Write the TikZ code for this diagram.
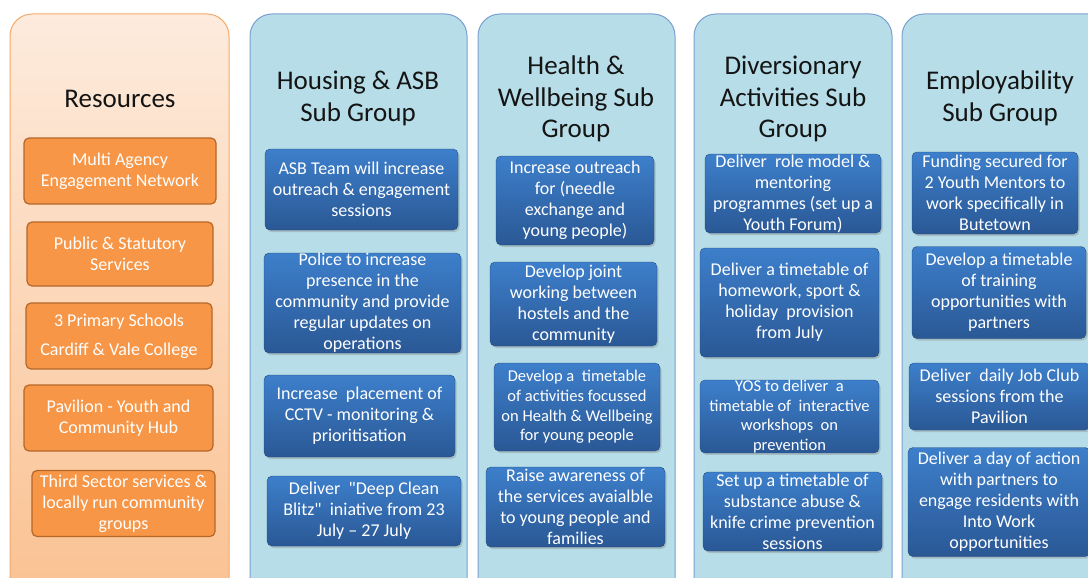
\documentclass[tikz,border=0pt]{standalone}
\usepackage{fontspec}
\setmainfont{Carlito}
\usetikzlibrary{shadows}

\definecolor{resFillTop}{HTML}{FDEBDD}
\definecolor{resFillBot}{HTML}{FAC08F}
\definecolor{resEdge}{HTML}{F4A96A}
\definecolor{resBox}{HTML}{F79646}
\definecolor{resBoxEdge}{HTML}{B5672A}
\definecolor{grpFill}{HTML}{B7DEE8}
\definecolor{grpEdge}{HTML}{7C9FD2}
\definecolor{actTop}{HTML}{3D7FCB}
\definecolor{actBot}{HTML}{2A5895}
\definecolor{headInk}{HTML}{141414}

\tikzset{
  column/.style={rounded corners=22pt, line width=1pt},
  rescol/.style={column, draw=resEdge, top color=resFillTop, bottom color=resFillBot},
  grpcol/.style={column, draw=grpEdge, fill=grpFill},
  head/.style={text=headInk, align=center, inner sep=0pt,
    font=\fontsize{27}{31.5}\selectfont},
  resbox/.style={rounded corners=5pt, fill=resBox, draw=resBoxEdge, line width=1.2pt,
    text=white, align=center, inner sep=0pt,
    font=\fontsize{18}{21}\selectfont},
  act/.style={rounded corners=5pt, top color=actTop, bottom color=actBot,
    draw=actBot!85!black, line width=0.4pt, text=white, align=center, inner sep=0pt,
    font=\fontsize{18}{21}\selectfont,
    drop shadow={opacity=0.35, shadow xshift=1.5pt, shadow yshift=-2pt}},
  smalltext/.style={font=\fontsize{16.5}{19.6}\selectfont},
}

\begin{document}
\begin{tikzpicture}[x=1pt, y=-1pt]
  \useasboundingbox (0,0) rectangle (1088,578);
  \clip (0,0) rectangle (1088,578);

  % column panels (run past the lower edge)
  \path[rescol] (10,14) rectangle (229,620);
  \path[grpcol] (250,14) rectangle (467,620);
  \path[grpcol] (478,14) rectangle (675,620);
  \path[grpcol] (694,14) rectangle (892,620);
  \path[grpcol] (902,14) rectangle (1120,620);

  % headings
  \node[head] (reshead) at (120,99) {Resources};
  \node[head] (hsghead) at (358,98.5) {Housing \& ASB\\Sub Group};
  \node[head] (hwbhead) at (576,99) {Health \&\\Wellbeing Sub\\Group};
  \node[head] (divhead) at (793,99) {Diversionary\\Activities Sub\\Group};
  \node[head] (emphead) at (1000,98.5) {Employability\\Sub Group};

  % resources
  \node[resbox, minimum width=192pt, minimum height=66pt] (r1) at (120,171)
    {Multi Agency\\Engagement Network};
  \node[resbox, minimum width=186pt, minimum height=64pt] (r2) at (120,254)
    {Public \& Statutory\\Services};
  \node[resbox, minimum width=186pt, minimum height=66pt,
        font=\fontsize{18}{29}\selectfont] (r3) at (119,336)
    {3 Primary Schools\\Cardiff \& Vale College};
  \node[resbox, minimum width=189pt, minimum height=66pt] (r4) at (118.5,418)
    {Pavilion - Youth and\\Community Hub};
  \node[resbox, minimum width=183pt, minimum height=66pt] (r5) at (123.5,503.5)
    {Third Sector services \&\\locally run community\\groups};

  % housing & ASB
  \node[act, minimum width=193pt, minimum height=81pt] (h1) at (361.5,189.5)
    {ASB Team will increase\\outreach \& engagement\\sessions};
  \node[act, minimum width=197pt, minimum height=100pt] (h2) at (362.5,303)
    {Police to increase\\presence in the\\community and provide\\regular updates on\\operations};
  \node[act, minimum width=191pt, minimum height=82pt] (h3) at (359.5,416)
    {Increase\ \ placement of\\CCTV - monitoring \&\\prioritisation};
  \node[act, minimum width=194pt, minimum height=70pt] (h4) at (364,511)
    {Deliver\ \ \textquotedbl Deep Clean\\Blitz\textquotedbl\ \ iniative from 23\\July – 27 July};

  % health & wellbeing
  \node[act, minimum width=158pt, minimum height=89pt] (w1) at (575,200.5)
    {Increase outreach\\for (needle\\exchange and\\young people)};
  \node[act, minimum width=167pt, minimum height=84pt] (w2) at (573.5,304)
    {Develop joint\\working between\\hostels and the\\community};
  \node[act, smalltext, minimum width=166pt, minimum height=88pt] (w3) at (577,407)
    {Develop a\ \ timetable\\of activities focussed\\on Health \& Wellbeing\\for young people};
  \node[act, minimum width=179pt, minimum height=80pt] (w4) at (575.5,507)
    {Raise awareness of\\the services avaialble\\to young people and\\families};

  % diversionary activities
  \node[act, minimum width=176pt, minimum height=79pt] (d1) at (793,193.5)
    {Deliver\ \ role model \&\\mentoring\\programmes (set up a\\Youth Forum)};
  \node[act, minimum width=179pt, minimum height=109pt] (d2) at (789.5,302.5)
    {Deliver a timetable of\\homework, sport \&\\holiday\ \ provision\\from July};
  \node[act, smalltext, minimum width=179pt, minimum height=72pt] (d3) at (789.5,416.5)
    {YOS to deliver\ \ a\\timetable of\ \ interactive\\workshops\ \ on\\prevention};
  \node[act, minimum width=179pt, minimum height=79pt] (d4) at (792.5,511.5)
    {Set up a timetable of\\substance abuse \&\\knife crime prevention\\sessions};

  % employability
  \node[act, minimum width=166pt, minimum height=82pt] (e1) at (995,193)
    {Funding secured for\\2 Youth Mentors to\\work specifically in\\Butetown};
  \node[act, minimum width=174pt, minimum height=92pt] (e2) at (999,292.5)
    {Develop a timetable\\of training\\opportunities with\\partners};
  \node[act, minimum width=181pt, minimum height=67pt] (e3) at (999.5,396.5)
    {Deliver\ \ daily Job Club\\sessions from the\\Pavilion};
  \node[act, minimum width=182pt, minimum height=109pt] (e4) at (999,502)
    {Deliver a day of action\\with partners to\\engage residents with\\Into Work\\opportunities};
\end{tikzpicture}
\end{document}
